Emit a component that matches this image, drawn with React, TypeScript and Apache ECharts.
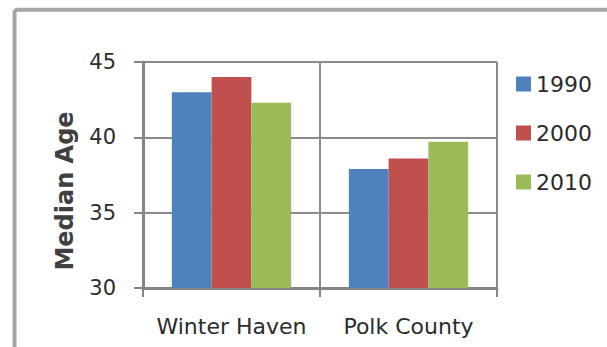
import React, { useEffect, useRef } from "react";
import * as echarts from "echarts";

const categories = ["Winter Haven", "Polk County"];
const seriesNames = ["1990", "2000", "2010"];
const values1990 = [43.0, 37.9];
const values2000 = [44.0, 38.6];
const values2010 = [42.3, 39.7];
const colors = ["#4F81BD", "#C0504D", "#9BBB59"];
const yTitle = "Median Age";

export default function App() {
  const ref = useRef<HTMLDivElement>(null);
  useEffect(() => {
    if (!ref.current) return;
    const chart = echarts.init(ref.current, null, { renderer: "svg" });
    const seriesData = [values1990, values2000, values2010];
    chart.setOption({
      animation: false,
      backgroundColor: "#ffffff",
      color: colors,
      textStyle: { fontFamily: "DejaVu Sans" },
      grid: { left: 143, right: 110, top: 62, bottom: 59, containLabel: false },
      legend: {
        orient: "vertical",
        left: 516,
        top: 73,
        padding: 0,
        itemWidth: 15,
        itemHeight: 15,
        itemGap: 27,
        icon: "rect",
        data: seriesNames,
        textStyle: { fontSize: 22, color: "#2b2b2b", fontFamily: "DejaVu Sans", lineHeight: 22 },
      },
      xAxis: {
        type: "category",
        data: categories,
        axisLine: { show: true, lineStyle: { color: "#858585", width: 3 } },
        axisTick: { show: true, length: 9, lineStyle: { color: "#858585", width: 2 } },
        splitLine: { show: true, lineStyle: { color: "#8a8a8a", width: 2 } },
        axisLabel: { interval: 0, fontSize: 22, color: "#2b2b2b", margin: 27, fontFamily: "DejaVu Sans" },
      },
      yAxis: {
        type: "value",
        min: 30,
        max: 45,
        interval: 5,
        axisLine: { show: true, lineStyle: { color: "#858585", width: 3 } },
        axisTick: { show: true, length: 9, lineStyle: { color: "#858585", width: 2 } },
        splitLine: { show: true, lineStyle: { color: "#8a8a8a", width: 2 } },
        axisLabel: { fontSize: 21, color: "#2b2b2b", margin: 27, fontFamily: "DejaVu Sans" },
      },
      graphic: [
        {
          type: "rect",
          shape: { x: 14.5, y: 9.75, width: 900, height: 600, r: 3 },
          style: { fill: "none", stroke: "#a6a6a6", lineWidth: 4 },
          silent: true,
        },
        {
          type: "text",
          x: 65,
          y: 191,
          rotation: Math.PI / 2,
          style: {
            text: yTitle,
            fill: "#404040",
            fontSize: 24,
            fontWeight: "bold",
            fontFamily: "DejaVu Sans",
            align: "center",
            verticalAlign: "middle",
          },
          silent: true,
        },
      ],
      series: seriesNames.map((name, i) => ({
        name,
        type: "bar",
        data: seriesData[i],
        barGap: "0%",
        barCategoryGap: "32.6%",
        itemStyle: { color: colors[i] },
      })),
    });
    return () => chart.dispose();
  }, []);
  return (
    <div
      ref={ref}
      style={{ position: "fixed", left: 0, top: 0, width: 607, height: 347 }}
    />
  );
}
